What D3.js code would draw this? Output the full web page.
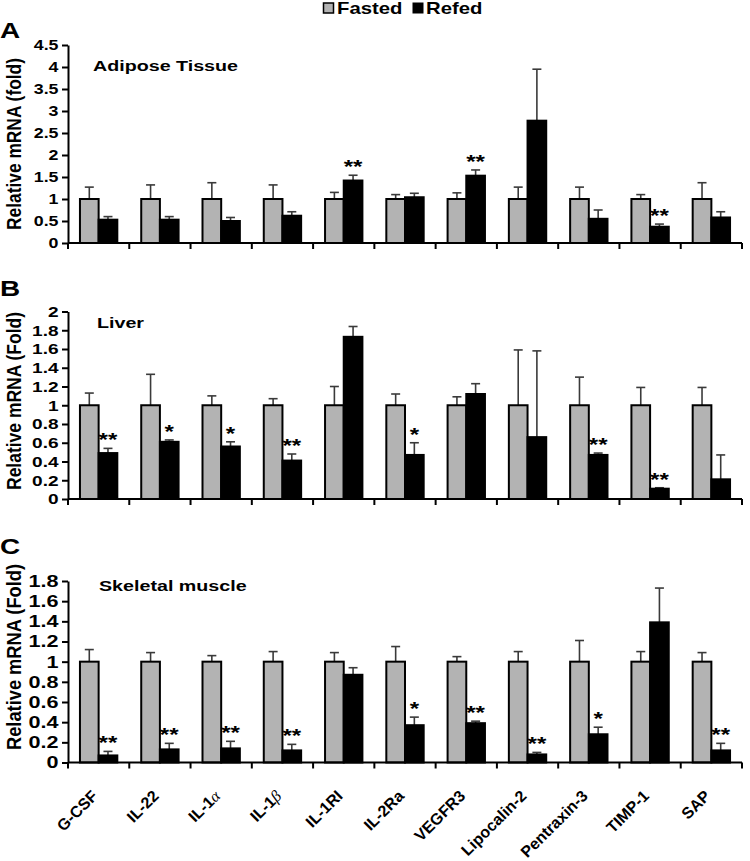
<!DOCTYPE html>
<html>
<head>
<meta charset="utf-8">
<script src="https://cdn.jsdelivr.net/npm/d3@7"></script>
<style>
  html, body { margin: 0; padding: 0; background: #fff; }
  svg { display: block; }
  text { font-family: Arial, "Liberation Sans", Helvetica, sans-serif; }
</style>
</head>
<body>
<svg id="chart" width="750" height="861"></svg>
<script>
// ---------------- DATA ----------------
const categories = ["G-CSF", "IL-22", "IL-1α", "IL-1β", "IL-1RI", "IL-2Ra", "VEGFR3", "Lipocalin-2", "Pentraxin-3", "TIMP-1", "SAP"];
const seriesNames = ["Fasted", "Refed"];

// A: Adipose tissue
const adiposeFasted    = [1, 1, 1, 1, 1, 1, 1, 1, 1, 1, 1];
const adiposeFastedErr = [0.27, 0.32, 0.37, 0.32, 0.15, 0.10, 0.14, 0.27, 0.27, 0.10, 0.37];
const adiposeRefed     = [0.53, 0.53, 0.50, 0.62, 1.42, 1.04, 1.53, 2.78, 0.55, 0.37, 0.58];
const adiposeRefedErr  = [0.07, 0.07, 0.08, 0.09, 0.12, 0.09, 0.13, 1.17, 0.20, 0.06, 0.13];
const adiposeSig       = ["", "", "", "", "**", "", "**", "", "", "**", ""];
const adiposeTicks     = [0, 0.5, 1, 1.5, 2, 2.5, 3, 3.5, 4, 4.5];

// B: Liver
const liverFasted    = [1, 1, 1, 1, 1, 1, 1, 1, 1, 1, 1];
const liverFastedErr = [0.13, 0.33, 0.10, 0.07, 0.20, 0.12, 0.09, 0.59, 0.30, 0.19, 0.19];
const liverRefed     = [0.49, 0.61, 0.56, 0.41, 1.73, 0.47, 1.12, 0.66, 0.47, 0.11, 0.21];
const liverRefedErr  = [0.05, 0.02, 0.05, 0.07, 0.11, 0.13, 0.11, 0.92, 0.02, 0.01, 0.26];
const liverSig       = ["**", "*", "*", "**", "", "*", "", "", "**", "**", ""];
const liverTicks     = [0, 0.2, 0.4, 0.6, 0.8, 1, 1.2, 1.4, 1.6, 1.8, 2];

// C: Skeletal muscle
const muscleFasted    = [1, 1, 1, 1, 1, 1, 1, 1, 1, 1, 1];
const muscleFastedErr = [0.12, 0.09, 0.06, 0.10, 0.09, 0.15, 0.05, 0.10, 0.21, 0.10, 0.09];
const muscleRefed     = [0.07, 0.13, 0.14, 0.12, 0.87, 0.37, 0.39, 0.08, 0.28, 1.39, 0.12];
const muscleRefedErr  = [0.04, 0.06, 0.07, 0.06, 0.07, 0.08, 0.02, 0.02, 0.07, 0.34, 0.07];
const muscleSig       = ["**", "**", "**", "**", "", "*", "**", "**", "*", "", "**"];
const muscleTicks     = [0, 0.2, 0.4, 0.6, 0.8, 1, 1.2, 1.4, 1.6, 1.8];

// ---------------- LAYOUT ----------------
const SX = 1.27; // horizontal stretch of the original figure's type
const colors = { Fasted: "#b3b3b3", Refed: "#000000" };
const svg = d3.select("#chart");

const x = d3.scaleBand().domain(categories).range([68, 742]).padding(0);
const xs = d3.scaleBand().domain(seriesNames).range([0, x.bandwidth()]).paddingInner(0).paddingOuter(0.64);

function label(g, s, px, py, o) {
  const t = g.append("text")
    .attr("text-anchor", o.anchor || "start")
    .attr("font-size", o.size)
    .attr("font-weight", o.weight || "bold")
    .attr("fill", "#000")
    .text(s)
    .attr("transform", `translate(${px},${py}) scale(${o.sx ?? SX},1)` + (o.rot ? ` rotate(${o.rot})` : ""));
  if (o.len) t.attr("textLength", o.len).attr("lengthAdjust", "spacingAndGlyphs");
  return t;
}

const panels = [
  { letter: "A", title: "Adipose Tissue", ylabel: "Relative mRNA (fold)",
    fasted: adiposeFasted, fastedErr: adiposeFastedErr, refed: adiposeRefed, refedErr: adiposeRefedErr, sig: adiposeSig,
    ticks: adiposeTicks, yRange: [243, 45], tickFont: 14, letterY: 38, titleX: 93, titleY: 71, ylabCY: 144, ylabLen: 172 },
  { letter: "B", title: "Liver", ylabel: "Relative mRNA (Fold)",
    fasted: liverFasted, fastedErr: liverFastedErr, refed: liverRefed, refedErr: liverRefedErr, sig: liverSig,
    ticks: liverTicks, yRange: [499, 311.5], tickFont: 15, letterY: 296, titleX: 97, titleY: 328, ylabCY: 401, ylabLen: 178 },
  { letter: "C", title: "Skeletal muscle", ylabel: "Relative mRNA (Fold)",
    fasted: muscleFasted, fastedErr: muscleFastedErr, refed: muscleRefed, refedErr: muscleRefedErr, sig: muscleSig,
    ticks: muscleTicks, yRange: [762.5, 581], tickFont: 17, letterY: 554, titleX: 99, titleY: 591, ylabCY: 657, ylabLen: 186 }
];

panels.forEach(p => {
  const g = svg.append("g");
  const y = d3.scaleLinear().domain([p.ticks[0], p.ticks[p.ticks.length - 1]]).range(p.yRange);

  const rows = categories.map((c, i) => ({
    c,
    vals: [
      { s: "Fasted", v: p.fasted[i], e: p.fastedErr[i] },
      { s: "Refed", v: p.refed[i], e: p.refedErr[i] }
    ],
    sig: p.sig[i]
  }));

  // error bars (drawn first, bars sit on top)
  const eg = g.append("g").attr("stroke", "#3a3a3a").attr("stroke-width", 1.6);
  rows.forEach(r => r.vals.forEach(d => {
    const cx = x(r.c) + xs(d.s) + xs.bandwidth() / 2;
    eg.append("line").attr("x1", cx).attr("x2", cx).attr("y1", y(d.v)).attr("y2", y(d.v + d.e));
    eg.append("line").attr("x1", cx - 4.5).attr("x2", cx + 4.5).attr("y1", y(d.v + d.e)).attr("y2", y(d.v + d.e));
  }));

  // bars
  rows.forEach(r => r.vals.forEach(d => {
    g.append("rect")
      .attr("x", x(r.c) + xs(d.s))
      .attr("y", y(d.v))
      .attr("width", xs.bandwidth())
      .attr("height", y(0) - y(d.v))
      .attr("fill", colors[d.s])
      .attr("stroke", "#000")
      .attr("stroke-width", 2);
  }));

  // significance stars
  rows.forEach(r => {
    if (!r.sig) return;
    const d = r.vals[1];
    const cx = x(r.c) + xs("Refed") + xs.bandwidth() / 2;
    label(g, r.sig, cx, y(d.v + d.e) - 2, { size: 19, anchor: "middle", weight: "bold" });
  });

  // y axis
  const yAxis = d3.axisLeft(y).tickValues(p.ticks).tickFormat(d => String(d)).tickSizeInner(6).tickSizeOuter(0);
  const ya = g.append("g").attr("transform", "translate(68,0)").call(yAxis);
  ya.select(".domain").attr("stroke", "#000").attr("stroke-width", 2);
  ya.selectAll(".tick line").attr("stroke", "#000").attr("stroke-width", 2);
  ya.selectAll(".tick text")
    .attr("x", -9.5 / SX)
    .attr("transform", `scale(${SX},1)`)
    .attr("font-size", p.tickFont)
    .attr("font-weight", "bold")
    .attr("font-family", "Arial, 'Liberation Sans', sans-serif")
    .attr("fill", "#000");

  // x axis baseline with boundary ticks
  const [x0, x1] = x.range();
  const xa = g.append("g").attr("stroke", "#000").attr("stroke-width", 2);
  xa.append("line").attr("x1", x0).attr("x2", x1).attr("y1", y(0)).attr("y2", y(0));
  categories.map(c => x(c)).concat([x1]).forEach(bx => {
    xa.append("line").attr("x1", bx).attr("x2", bx).attr("y1", y(0)).attr("y2", y(0) + 6);
  });

  // panel letter, title, y label
  label(g, p.letter, 0, p.letterY, { size: 22 });
  label(g, p.title, p.titleX, p.titleY, { size: 15.5 });
  label(g, p.ylabel, 21, p.ylabCY, { size: 16, rot: -90, anchor: "middle", len: p.ylabLen });
});

// x category labels (bottom panel), rotated 45 degrees
const xl = svg.append("g");
categories.forEach(c => {
  const cx = x(c) + x.bandwidth() / 2;
  const t = xl.append("text")
    .attr("text-anchor", "end")
    .attr("font-size", 16)
    .attr("font-weight", "bold")
    .attr("fill", "#000");
  const greek = c.match(/[αβ]$/);
  if (greek) {
    t.append("tspan").text(c.slice(0, -1));
    t.append("tspan").attr("font-family", "'Liberation Serif', 'DejaVu Serif', serif")
      .attr("font-weight", "normal").attr("font-style", "italic").text(greek[0]);
  } else {
    t.text(c);
  }
  t.attr("transform", `translate(${cx},797) rotate(-45)`);
});

// legend
const lg = svg.append("g");
lg.append("rect").attr("x", 323.5).attr("y", 3).attr("width", 10).attr("height", 10)
  .attr("fill", colors.Fasted).attr("stroke", "#000").attr("stroke-width", 1.5);
label(lg, seriesNames[0], 337, 13.5, { size: 16 });
lg.append("rect").attr("x", 413).attr("y", 3).attr("width", 10).attr("height", 10)
  .attr("fill", colors.Refed).attr("stroke", "#000").attr("stroke-width", 1);
label(lg, seriesNames[1], 426, 13.5, { size: 16 });
</script>
</body>
</html>
